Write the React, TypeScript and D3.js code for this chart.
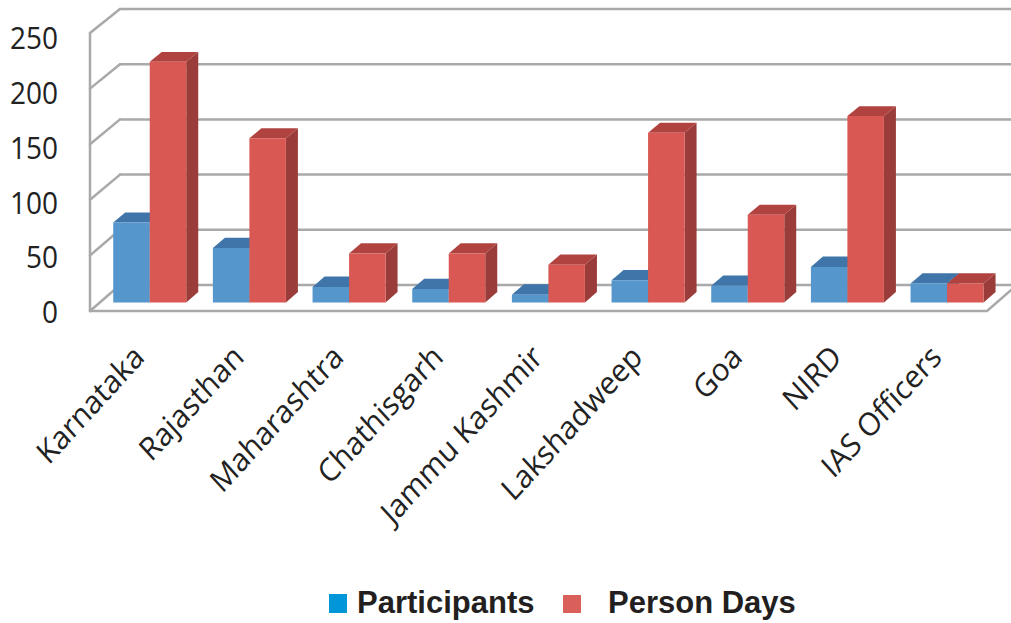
import React from "react";
import * as d3 from "d3";

const categories = ["Karnataka", "Rajasthan", "Maharashtra", "Chathisgarh", "Jammu Kashmir", "Lakshadweep", "Goa", "NIRD", "IAS Officers"];
const series = ["Participants", "Person Days"];
const participants = [72, 49, 14, 12, 7, 20, 15, 32, 17];
const personDays = [217, 148, 44, 44, 34, 153, 79, 168, 17];
const yTicks = [0, 50, 100, 150, 200, 250];

const W = 1011, H = 623;
const X0 = 90, X1 = 987;
const DX = 30; // depth shift in x (front -> back)
const T0 = 0.33, T1 = 0.73; // bar depth range
const yFront = d3.scaleLinear().domain([0, 250]).range([311, 33]);
const yBack = d3.scaleLinear().domain([0, 250]).range([285, 9]);
const yLabel = d3.scaleLinear().domain([0, 250]).range([312, 38]);
const xBand = d3.scaleBand<string>().domain(categories).range([X0, X1]).padding(0);
const xInner = d3.scaleBand<string>().domain(series).range([0, xBand.bandwidth()]).paddingInner(0).paddingOuter(0.365);

const faceColors = [
  { front: "#5596CC", top: "#3F75A9", side: "#3A6A98" },
  { front: "#D95853", top: "#B0433F", side: "#9A3C39" },
];

function proj(x: number, v: number, t: number): [number, number] {
  const y = yFront(v) + (yBack(v) - yFront(v)) * t;
  return [x + DX * t, y];
}
function poly(pts: [number, number][]) {
  return pts.map((p) => p[0].toFixed(2) + "," + p[1].toFixed(2)).join(" ");
}

export default function App() {
  const values = [participants, personDays];
  const grid = "#A9A9A9";
  const bars: React.ReactNode[] = [];
  categories.forEach((c, i) => {
    series.forEach((s, si) => {
      const v = values[si][i];
      const xa = (xBand(c) as number) + (xInner(s) as number);
      const xb = xa + xInner.bandwidth();
      const col = faceColors[si];
      const front = [proj(xa, 0, T0), proj(xb, 0, T0), proj(xb, v, T0), proj(xa, v, T0)];
      const top = [proj(xa, v, T0), proj(xb, v, T0), proj(xb, v, T1), proj(xa, v, T1)];
      const side = [proj(xb, 0, T0), proj(xb, 0, T1), proj(xb, v, T1), proj(xb, v, T0)];
      bars.push(
        <g key={c + s}>
          <polygon points={poly(side)} fill={col.side} />
          <polygon points={poly(top)} fill={col.top} />
          <polygon points={poly(front)} fill={col.front} />
        </g>
      );
    });
  });

  return (
    <svg width={W} height={H} style={{ position: "absolute", left: 0, top: 0, background: "#fff" }}>
      {/* back wall and left wall gridlines */}
      <g stroke={grid} strokeWidth={2.5} fill="none" strokeLinecap="round">
        {yTicks.map((t) => (
          <g key={t}>
            <line x1={X0 + DX} y1={yBack(t)} x2={X1 + DX} y2={yBack(t)} />
            <line x1={X0} y1={yFront(t)} x2={X0 + DX} y2={yBack(t)} />
          </g>
        ))}
        <line x1={X0} y1={yFront(250)} x2={X0} y2={yFront(0)} />
        <polyline points={poly([[X0, yFront(0)], [X1, yFront(0)], [X1 + DX, yBack(0)]])} />
      </g>
      {bars}
      {/* y tick labels */}
      <g fontFamily="'Open Sans', sans-serif" fontSize={28} fill="#222">
        {yTicks.map((t) => (
          <text key={t} transform={`translate(58,${yLabel(t)}) scale(1,1.1)`} textAnchor="end" dy="0.36em">
            {t}
          </text>
        ))}
      </g>
      {/* category labels */}
      <g fontFamily="'Open Sans', sans-serif" fontSize={29} fill="#222">
        {categories.map((c) => {
          const cx = (xBand(c) as number) + xBand.bandwidth() / 2;
          return (
            <text key={c} transform={`translate(${cx + 6},${359}) scale(1,1.1) rotate(-45)`} textAnchor="end">
              {c}
            </text>
          );
        })}
      </g>
      {/* legend */}
      <g fontFamily="'Liberation Sans', Arial, sans-serif" fontWeight="bold" fontSize={31} fill="#231F20">
        <rect x={329} y={594} width={18} height={19} fill="#0096D7" />
        <text x={357} y={613}>{series[0]}</text>
        <rect x={563} y={595} width={18} height={18} fill="#D9605A" />
        <text x={608} y={613}>{series[1]}</text>
      </g>
    </svg>
  );
}
